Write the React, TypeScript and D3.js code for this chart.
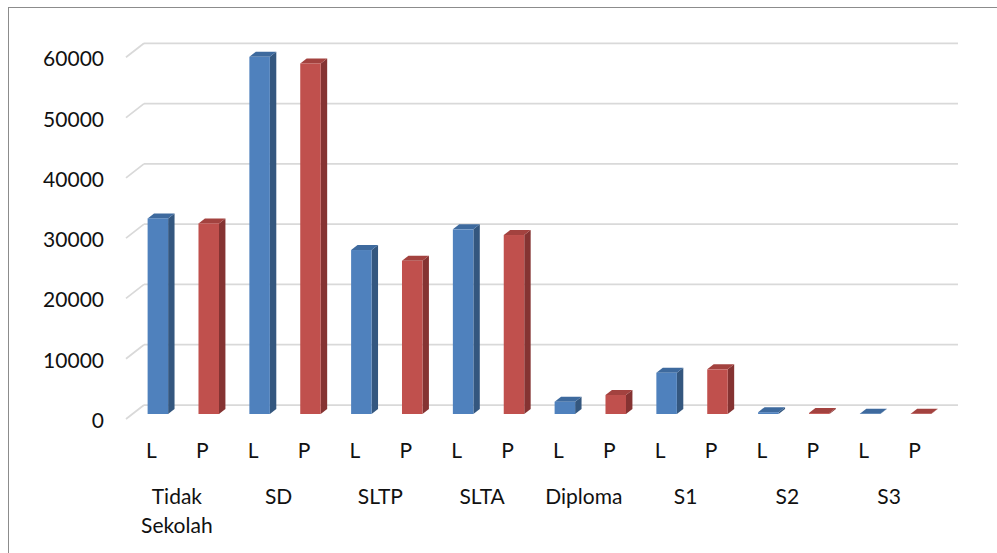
import React from "react";
import * as d3 from "d3";

const categories = ["Tidak Sekolah", "SD", "SLTP", "SLTA", "Diploma", "S1", "S2", "S3"];
const series = ["L", "P"];
const valuesL = [32450, 59250, 27200, 30630, 2040, 6850, 300, 50];
const valuesP = [31620, 58150, 25420, 29690, 3150, 7410, 150, 50];
const yTicks = [0, 10000, 20000, 30000, 40000, 50000, 60000];

const W = 997;
const H = 553;
const FONT = "Lato, 'Open Sans', sans-serif";
const FS = 21;

export default function App() {
  const frontLeft = 126;
  const frontRight = 940;
  const depthX = 18;
  const depthY = 14;
  const yFront0 = 419;

  const yBack = d3.scaleLinear().domain([0, 60000]).range([yFront0 - depthY, 43.3]);
  const x0 = d3.scaleBand().domain(categories).range([frontLeft, frontRight]).padding(0);
  const x1 = d3.scaleBand().domain(series).range([0, x0.bandwidth()]).paddingInner(0).paddingOuter(0);

  const f = 5 / 14;
  const bdx = depthX * f;
  const bdy = depthY * f;
  const barW = x1.bandwidth() * 0.403;
  const barBaseShift = depthY - bdy;

  const colors: Record<string, { front: string; side: string; top: string }> = {
    L: { front: "#4F81BD", side: "#34577F", top: "#3E6A9E" },
    P: { front: "#C0504D", side: "#853332", top: "#A3423F" },
  };

  const bars: React.ReactNode[] = [];
  categories.forEach((c, i) => {
    series.forEach((s) => {
      const v = s === "L" ? valuesL[i] : valuesP[i];
      const cx = (x0(c) as number) + (x1(s) as number) + x1.bandwidth() / 2 + bdx;
      const x = cx - barW / 2;
      const yBase = yBack(0) + barBaseShift;
      const yTop = yBack(v) + barBaseShift;
      const col = colors[s];
      bars.push(
        <g key={c + s}>
          <polygon
            points={`${x + barW},${yTop} ${x + barW + bdx},${yTop - bdy} ${x + barW + bdx},${yBase - bdy} ${x + barW},${yBase}`}
            fill={col.side}
          />
          <polygon
            points={`${x},${yTop} ${x + bdx},${yTop - bdy} ${x + barW + bdx},${yTop - bdy} ${x + barW},${yTop}`}
            fill={col.top}
          />
          <rect x={x} y={yTop} width={barW} height={Math.max(0, yBase - yTop)} fill={col.front} />
        </g>
      );
    });
  });

  return (
    <svg
      width={W}
      height={H}
      style={{ position: "absolute", left: 0, top: 0, background: "#fff" }}
      fontFamily={FONT}
    >
      <rect x={8.5} y={7.5} width={W + 20} height={H + 20} fill="#fff" stroke="#8C8C8C" strokeWidth={1} />
      {yTicks.map((t) => {
        const yb = yBack(t);
        return (
          <g key={t}>
            <line x1={frontLeft + depthX} x2={frontRight + depthX} y1={yb} y2={yb} stroke="#D9D9D9" strokeWidth={1.75} />
            <line x1={frontLeft} x2={frontLeft + depthX} y1={yb + depthY} y2={yb} stroke="#D9D9D9" strokeWidth={1.75} />
            <text x={104} y={yb + depthY + 9} textAnchor="end" fontSize={FS} fill="#111">
              {t}
            </text>
          </g>
        );
      })}
      {bars}
      {categories.map((c) => (
        <g key={c}>
          {series.map((s) => (
            <text
              key={s}
              x={(x0(c) as number) + (x1(s) as number) + x1.bandwidth() / 2}
              y={458}
              textAnchor="middle"
              fontSize={FS}
              fill="#111"
            >
              {s}
            </text>
          ))}
          {c.split(" ").map((w, k) => (
            <text
              key={w}
              x={(x0(c) as number) + x0.bandwidth() / 2}
              y={504 + k * 29}
              textAnchor="middle"
              fontSize={FS}
              fill="#111"
            >
              {w}
            </text>
          ))}
        </g>
      ))}
    </svg>
  );
}
